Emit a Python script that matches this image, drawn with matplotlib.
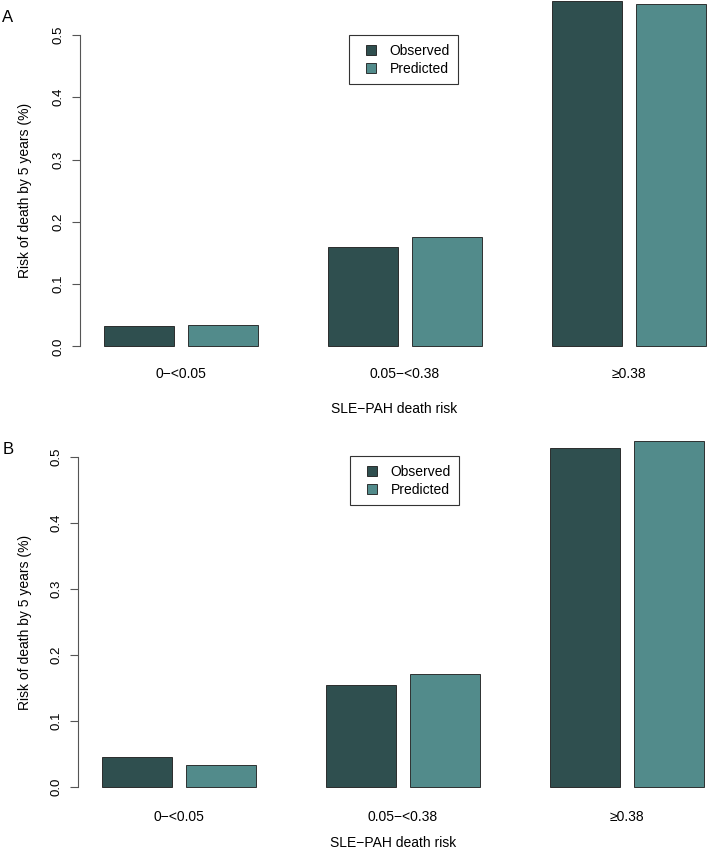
import numpy as np
import matplotlib.pyplot as plt
from matplotlib.lines import Line2D

plt.rcParams['font.family'] = ['Liberation Sans', 'DejaVu Sans']

categories = ['0\u2212<0.05', '0.05\u2212<0.38', '\u22650.38']
series_names = ['Observed', 'Predicted']
colors = ['#2F4F4F', '#528B8B']

observed_a = [0.033, 0.159, 0.554]
predicted_a = [0.034, 0.175, 0.549]
observed_b = [0.046, 0.155, 0.514]
predicted_b = [0.034, 0.171, 0.524]

y_ticks = [0.0, 0.1, 0.2, 0.3, 0.4, 0.5]

W, H = 708, 855
BAR_PX = 70.0
fig = plt.figure(figsize=(W / 100, H / 100), dpi=100)


def panel(letter, obs, pred, axis_x, zero_y, top_y, px_per_unit, x0, leg_xy,
          letter_y, xpad, xlabpad):
    ax = fig.add_axes([axis_x / W, 1 - zero_y / H, (W - axis_x) / W, (zero_y - top_y) / H])
    ax.set_xlim((axis_x - x0) / BAR_PX, (W - x0) / BAR_PX)
    ax.set_ylim(0, (zero_y - top_y) / px_per_unit)

    left = 1 + np.arange(len(categories)) * 3.2
    ax.bar(left, obs, width=1, align='edge', color=colors[0],
           edgecolor='#1a1a1a', lw=0.6, clip_on=False)
    ax.bar(left + 1.2, pred, width=1, align='edge', color=colors[1],
           edgecolor='#1a1a1a', lw=0.6, clip_on=False)

    ax.set_xticks(left + 1.1, categories)
    ax.tick_params(axis='x', length=0, pad=xpad, labelsize=10)
    ax.set_xlabel('SLE\u2212PAH death risk', fontsize=10, labelpad=xlabpad)

    for s in ['top', 'right', 'bottom']:
        ax.spines[s].set_visible(False)
    ax.spines['left'].set_bounds(0, 0.5)
    ax.spines['left'].set_color('#555555')
    ax.spines['left'].set_linewidth(0.8)
    ax.set_yticks(y_ticks, ['%.1f' % t for t in y_ticks])
    ax.tick_params(axis='y', length=5.5, width=0.8, color='#555555',
                   labelsize=9.5, pad=5.5, labelrotation=90)
    for lab in ax.get_yticklabels():
        lab.set_va('center')

    mid = zero_y - 0.25 * px_per_unit
    fig.text(25 / W, 1 - mid / H, 'Risk of death by 5 years (%)', rotation=90,
             ha='center', va='center', fontsize=10)
    fig.text(8 / W, 1 - letter_y / H, letter, ha='center', va='center', fontsize=12)

    handles = [Line2D([], [], marker='s', ls='none', markersize=6.5, mfc=c,
                      mec='#1a1a1a', mew=0.6, label=n)
               for c, n in zip(colors, series_names)]
    leg = ax.legend(handles=handles, loc='upper left',
                    bbox_to_anchor=(leg_xy[0] / W, 1 - leg_xy[1] / H),
                    bbox_transform=fig.transFigure, borderaxespad=0,
                    fancybox=False, edgecolor='#333333', framealpha=1,
                    fontsize=10, handlelength=1.87, handletextpad=0.43,
                    borderpad=0.62, labelspacing=0.3)
    leg.get_frame().set_linewidth(0.8)
    return ax


panel('A', observed_a, predicted_a, 80, 346.5, 0, 623, 34, (349, 35), 17, 14.5, 15.5)
panel('B', observed_b, predicted_b, 78, 787, 430, 660, 32, (350, 456), 449, 16.5, 8.5)

fig.savefig('out.png', dpi=100)
